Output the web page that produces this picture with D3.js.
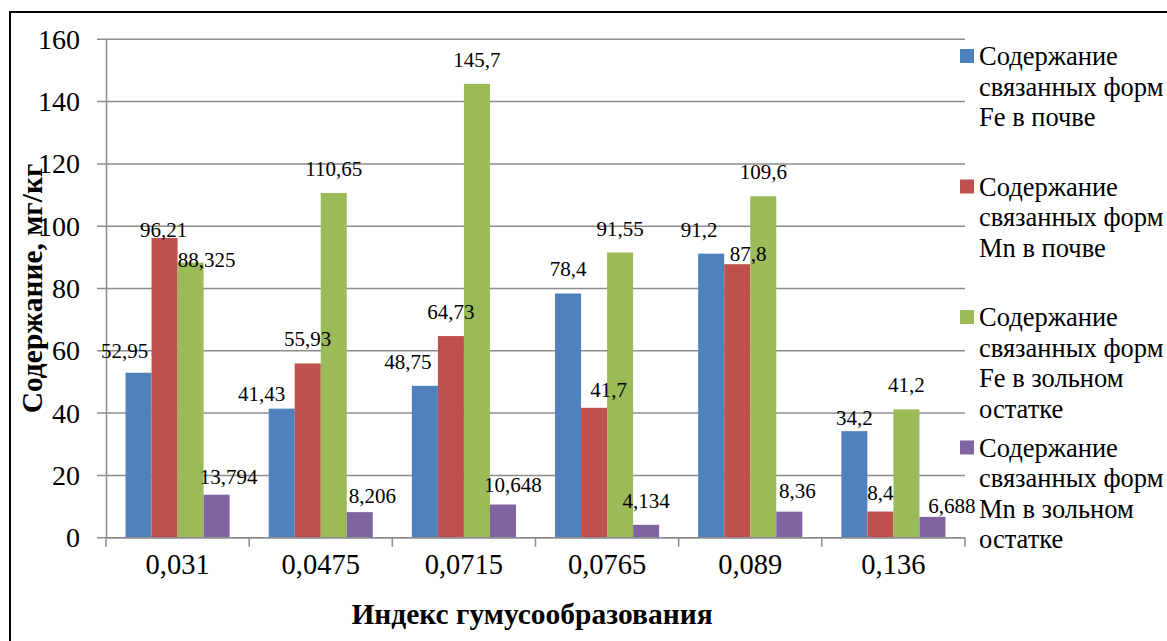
<!DOCTYPE html>
<html><head><meta charset="utf-8">
<script src="https://cdn.jsdelivr.net/npm/d3@7"></script>
<style>
html,body{margin:0;padding:0;background:#fff;}
svg{display:block;}
</style></head>
<body>
<svg id="chart" width="1167" height="641" font-family="Liberation Serif"></svg>
<script>
// ---- data ----
const categories = ["0,031","0,0475","0,0715","0,0765","0,089","0,136"];
const feSoil   = [52.95, 41.43, 48.75, 78.4, 91.2, 34.2];
const mnSoil   = [96.21, 55.93, 64.73, 41.7, 87.8, 8.4];
const feAsh    = [88.325, 110.65, 145.7, 91.55, 109.6, 41.2];
const mnAsh    = [13.794, 8.206, 10.648, 4.134, 8.36, 6.688];
const seriesNames = [
  "Содержание связанных форм Fe в почве",
  "Содержание связанных форм Mn в почве",
  "Содержание связанных форм Fe в зольном остатке",
  "Содержание связанных форм Mn в зольном остатке"
];
const yTicks = [0,20,40,60,80,100,120,140,160];
const yTitle = "Содержание, мг/кг";
const xTitle = "Индекс гумусообразования";

// ---- style / layout ----
const FONT = "Liberation Serif";
const colors = ["#4F81BD","#C0504D","#9BBB59","#8064A2"];
const legendLines = [
  ["Содержание","связанных форм","Fe в почве"],
  ["Содержание","связанных форм","Mn в почве"],
  ["Содержание","связанных форм","Fe в зольном","остатке"],
  ["Содержание","связанных форм","Mn в зольном","остатке"]
];
// label pixel nudges [dx,dy] per category, per series (as placed in the original)
const labelNudge = [
  [[-14,2],[-1,15.5],[16,21],[12,6.5]],
  [[-20,9],[0,0],[0,0],[12.5,8]],
  [[-17,0],[0,0],[0,0],[10,4]],
  [[0,0],[14.5,6.5],[0,0],[0,0]],
  [[-12,0],[11,14],[0,0],[8,3]],
  [[0,11],[0,5],[0,0],[19.5,13]]
];
const fmt = v => String(v).replace(".", ",");

const series = [feSoil, mnSoil, feAsh, mnAsh];
const svg = d3.select("#chart");
const L = 106, R = 965, T = 39.3, B = 537.7;

// border (top & left visible)
svg.append("line").attr("x1",10).attr("x2",1167).attr("y1",12).attr("y2",12).attr("stroke","#000").attr("stroke-width",2);
svg.append("line").attr("x1",10).attr("x2",10).attr("y1",11).attr("y2",641).attr("stroke","#000").attr("stroke-width",2);

const y = d3.scaleLinear().domain([0,160]).range([B,T]);
const x0 = d3.scaleBand().domain(categories).range([L,R]).padding(0);
const step = x0.bandwidth();
const groupW = step*0.7273; // gap width 150%
const x1 = d3.scaleBand().domain(d3.range(4)).range([(step-groupW)/2,(step+groupW)/2]).padding(0);

const gridColor = "#8C8C8C";
svg.append("g").selectAll("line").data(yTicks).join("line")
  .attr("x1",L-9).attr("x2",R).attr("y1",d=>y(d)).attr("y2",d=>y(d))
  .attr("stroke",gridColor).attr("stroke-width",1.5);

const yAxis = d3.axisLeft(y).tickValues(yTicks).tickSize(0).tickPadding(26).tickFormat(d=>d);
const gy = svg.append("g").attr("transform",`translate(${L},0)`).call(yAxis)
  .attr("font-family",FONT).attr("font-size",28);
gy.select(".domain").attr("stroke",gridColor).attr("stroke-width",1.5);
gy.selectAll("text").style("font-family",FONT).style("font-size","28px").attr("fill","#000");

const gBars = svg.append("g");
categories.forEach((c,i)=>{
  series.forEach((s,j)=>{
    gBars.append("rect")
      .attr("x", x0(c)+x1(j))
      .attr("y", y(s[i]))
      .attr("width", x1.bandwidth())
      .attr("height", y(0)-y(s[i]))
      .attr("fill", colors[j]);
  });
});

svg.append("line").attr("x1",L).attr("x2",R).attr("y1",y(0)).attr("y2",y(0)).attr("stroke",gridColor).attr("stroke-width",1.5);
const bounds = categories.map(c=>x0(c)).concat([R]);
svg.append("g").selectAll("line").data(bounds).join("line")
  .attr("x1",d=>d).attr("x2",d=>d).attr("y1",y(0)).attr("y2",y(0)+9)
  .attr("stroke",gridColor).attr("stroke-width",1.5);
svg.append("g").selectAll("text").data(categories).join("text")
  .attr("x",d=>x0(d)+step/2).attr("y",573.5)
  .attr("text-anchor","middle").style("font-family",FONT).style("font-size","28.5px").text(d=>d);

const gLab = svg.append("g");
categories.forEach((c,i)=>{
  series.forEach((s,j)=>{
    const n = labelNudge[i][j];
    gLab.append("text")
      .attr("x", x0(c)+x1(j)+x1.bandwidth()/2 + n[0])
      .attr("y", y(s[i]) - 17 + n[1])
      .attr("text-anchor","middle").style("font-family",FONT).style("font-size","21px")
      .text(fmt(s[i]));
  });
});

svg.append("text").attr("transform",`translate(42,${(T+B)/2}) rotate(-90)`)
  .attr("text-anchor","middle").style("font-family",FONT).style("font-size","29.5px").style("font-weight","bold").text(yTitle);
svg.append("text").attr("x",532).attr("y",623.5)
  .attr("text-anchor","middle").style("font-family",FONT).style("font-size","29.5px").style("font-weight","bold").text(xTitle);

const gLeg = svg.append("g");
seriesNames.forEach((name,j)=>{
  const by = 65 + j*130.5;
  gLeg.append("rect").attr("x",960).attr("y",by-16).attr("width",14).attr("height",14).attr("fill",colors[j]);
  const t = gLeg.append("text").attr("x",979).attr("y",by).style("font-family",FONT).style("font-size","26.5px");
  legendLines[j].forEach((ln,k)=>{
    t.append("tspan").attr("x",979).attr("y",by+k*30.5).text(ln);
  });
});
</script>
</body></html>
